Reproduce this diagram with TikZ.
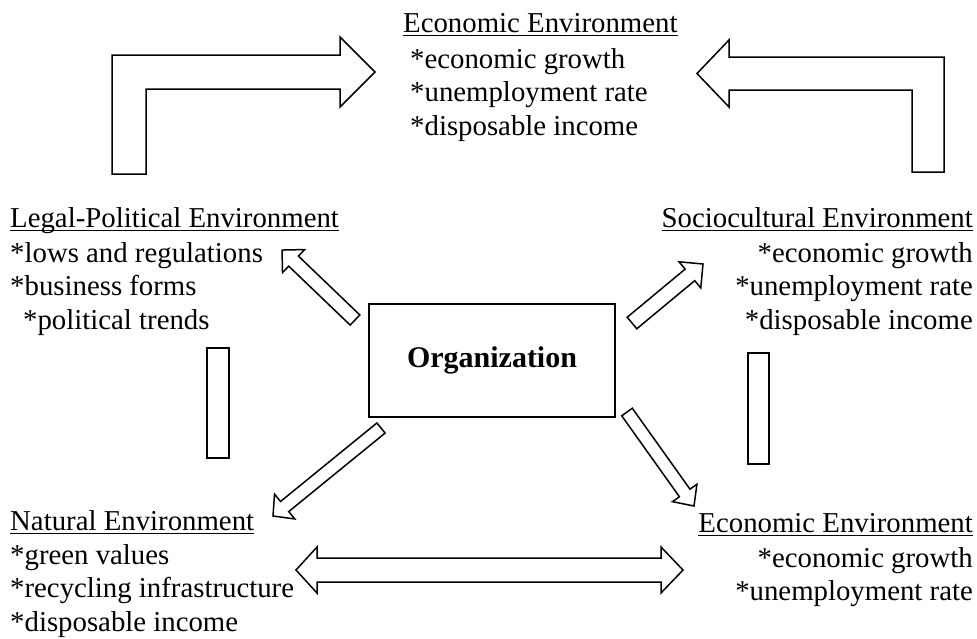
\documentclass[tikz,border=0pt]{standalone}
\usepackage{fontspec}
\setmainfont{Liberation Serif}
\usetikzlibrary{calc}
\newcommand\ulx[1]{\setbox0\hbox{#1}\rlap{\rule[-4pt]{\wd0}{1.3pt}}\box0}
\newcommand\blockarr[5]{%
  \draw[shp] let \p1=(#1), \p2=(#2), \n1={atan2(\y2-\y1,\x2-\x1)}, \n2={veclen(\x2-\x1,\y2-\y1)} in
  [shift={(\p1)}, rotate=\n1] (0,-#3) -- (\n2-#5,-#3) -- (\n2-#5,-#4) -- (\n2,0) -- (\n2-#5,#4) -- (\n2-#5,#3) -- (0,#3) -- cycle;}
\begin{document}
\begin{tikzpicture}[x=1pt,y=-1pt,
  shp/.style={draw=black, line width=1.5pt, line join=miter, fill=white},
  txt/.style={inner sep=0pt, font=\fontsize{28.8}{33.5}\selectfont}]
\useasboundingbox (0,0) rectangle (977,638);

% text blocks
\node[txt, anchor=base west] (top) at (403,32) {\begin{tabular}[t]{@{}l@{}}\ulx{Economic Environment}\\[2.5pt]
 \hspace{7pt}*economic growth\\ {}\hspace{7pt}*unemployment rate\\ {}\hspace{7pt}*disposable income\end{tabular}};
\node[txt, anchor=base west] (legal) at (10,227) {\begin{tabular}[t]{@{}l@{}}\ulx{Legal-Political Environment}\\[1.5pt]
 {}*lows and regulations\\ {}*business forms\\ {}\hspace{13pt}*political trends\end{tabular}};
\node[txt, anchor=base east] (socio) at (973,227) {\begin{tabular}[t]{@{}r@{}}\ulx{Sociocultural Environment}\\[1.5pt]
 {}*economic growth\\ {}*unemployment rate\\ {}*disposable income\end{tabular}};
\node[txt, anchor=base west] (natural) at (10,530) {\begin{tabular}[t]{@{}l@{}}\ulx{Natural Environment}\\[0.5pt]
 {}*green values\\ {}*recycling infrastructure\\ {}*disposable income\end{tabular}};
\node[txt, anchor=base east] (econ) at (973,532) {\begin{tabular}[t]{@{}r@{}}\ulx{Economic Environment}\\[1.5pt]
 {}*economic growth\\ {}*unemployment rate\hspace{10pt}\end{tabular}};

% organization box
\node[shp, inner sep=0pt, font=\fontsize{30}{34}\selectfont, minimum width=246pt, minimum height=113pt] (org) at (492,360.5) {\textbf{Organization}};

% bent arrows at top
\draw[shp] (112,174) -- (112,55) -- (340,55) -- (340,37) -- (375,72) -- (340,107) -- (340,89) -- (146,89) -- (146,174) -- cycle;
\draw[shp] (944,172) -- (944,57) -- (729,57) -- (729,40) -- (697,73.5) -- (729,107) -- (729,90) -- (912,90) -- (912,172) -- cycle;

% vertical bars
\draw[shp] (207,348) rectangle (229,458);
\draw[shp] (748,353) rectangle (769,464);

% double arrow at bottom
\draw[shp] (296,570) -- (317,547) -- (317,558) -- (661,558) -- (661,547) -- (683,570) -- (661,593) -- (661,582) -- (317,582) -- (317,593) -- cycle;

% diagonal arrows
\coordinate (nwT) at (355,320); \coordinate (nwH) at (282,250);
\coordinate (neT) at (632,323); \coordinate (neH) at (703,264);
\coordinate (swT) at (381,428); \coordinate (swH) at (273,516);
\coordinate (seT) at (627,412); \coordinate (seH) at (694,506);
\blockarr{nwT}{nwH}{7}{16}{16}
\blockarr{neT}{neH}{7.5}{17}{17}
\blockarr{swT}{swH}{6.5}{16}{15}
\blockarr{seT}{seH}{6.5}{15}{16}
\end{tikzpicture}
\end{document}
